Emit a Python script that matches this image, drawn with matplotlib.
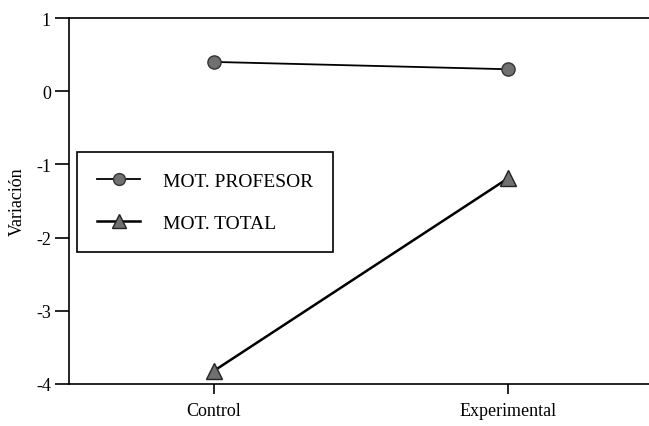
import matplotlib
matplotlib.use("Agg")
import matplotlib.pyplot as plt

categories = ["Control", "Experimental"]
mot_profesor = [0.40, 0.30]
mot_total = [-3.82, -1.19]
yticks = [1, 0, -1, -2, -3, -4]

plt.rcParams['font.family'] = ['Liberation Serif', 'DejaVu Serif']
plt.rcParams['font.size'] = 12

fig = plt.figure(figsize=(6.49, 4.27), dpi=100)
W, H = 649, 427
ax = fig.add_axes([69 / W, (H - 385) / H, 586 / W, 366 / H])

x = [1, 2]
ax.plot(x, mot_profesor, color='black', lw=1.3, marker='o', markersize=9.5,
        markerfacecolor='#707070', markeredgecolor='#333333', markeredgewidth=1.0,
        label='MOT. PROFESOR')
ax.plot(x, mot_total, color='black', lw=1.8, marker='^', markersize=11,
        markerfacecolor='#707070', markeredgecolor='#222222', markeredgewidth=1.0,
        label='MOT. TOTAL')

ax.set_xlim(0.507, 2.5)
ax.set_ylim(-4, 1)
ax.set_xticks(x)
ax.set_xticklabels(categories)
ax.set_yticks(yticks)
ax.set_yticklabels([str(v) for v in yticks])
ax.spines['right'].set_visible(False)
for s in ['left', 'bottom', 'top']:
    ax.spines[s].set_linewidth(1.2)
ax.tick_params(axis='y', direction='out', length=10, width=1.2, pad=3, labelsize=13)
ax.tick_params(axis='x', direction='out', length=7, width=1.2, pad=6, labelsize=13)
ax.set_ylabel('Variación', fontsize=13)
ax.yaxis.set_label_coords(-43 / 586, 0.5)

leg = ax.legend(loc='upper left', bbox_to_anchor=(77 / W, (H - 153) / H),
                bbox_transform=fig.transFigure, fancybox=False, frameon=True,
                edgecolor='black', handlelength=2.2, handletextpad=1.15,
                borderpad=1.05, labelspacing=1.25, fontsize=14, borderaxespad=0,
                markerscale=0.9)
leg.get_frame().set_linewidth(1.2)
leg.get_frame().set_alpha(1)

fig.savefig('out.png', dpi=100)
